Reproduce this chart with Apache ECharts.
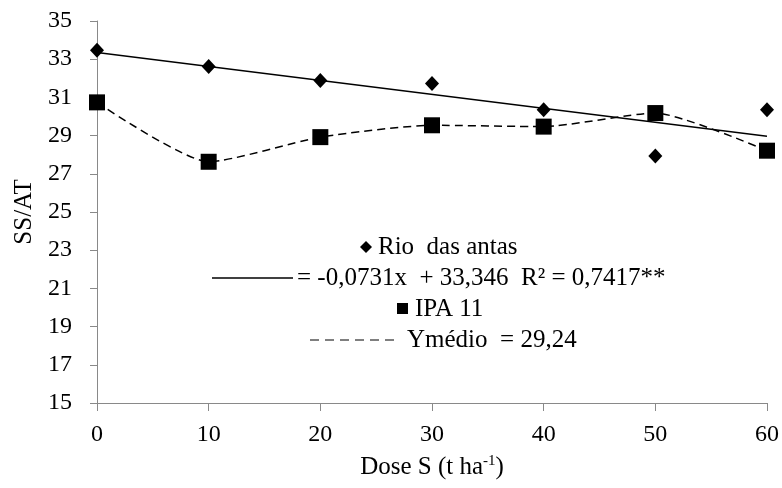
<!DOCTYPE html>
<html><head><meta charset="utf-8">
<script src="https://cdn.jsdelivr.net/npm/echarts@6/dist/echarts.min.js"></script>
<style>html,body{margin:0;padding:0;background:#fff}#c{width:782px;height:488px}</style>
</head><body><div id="c"></div>
<script>
// Data
const doses = [0, 10, 20, 30, 40, 50, 60];
const rioValues = [33.47, 32.62, 31.88, 31.73, 30.35, 27.93, 30.35];
const ipaValues = [30.74, 27.63, 28.92, 29.54, 29.47, 30.18, 28.21];
const trendX = [0, 60];
const trendY = [33.35, 28.96];
const legendLabels = ['Rio  das antas', '= -0,0731x  + 33,346  R² = 0,7417**', 'IPA 11', 'Ymédio  = 29,24'];

const FONT = 'Liberation Serif';
const AXIS = '#898989';
const FS = 24;

const chart = echarts.init(document.getElementById('c'), null, {renderer: 'canvas'});
const pair = (xs, ys) => xs.map((x, i) => [x, ys[i]]);

const txt = (x, y, s) => ({type: 'text', x: x, y: y, style: {text: s, fontFamily: FONT, fontSize: 25, fill: '#000', verticalAlign: 'middle', align: 'left'}});

chart.setOption({
  animation: false,
  backgroundColor: '#fff',
  textStyle: {fontFamily: FONT},
  grid: {left: 97, right: 15, top: 21, bottom: 85, containLabel: false},
  xAxis: {
    type: 'value', min: 0, max: 60, interval: 10,
    name: 'Dose S (t ha{sup|-1})', nameLocation: 'middle', nameGap: 51,
    nameTextStyle: {fontFamily: FONT, fontSize: 25, color: '#000',
      rich: {sup: {fontFamily: FONT, fontSize: 15, verticalAlign: 'top', padding: [0,0,12,0], color: '#000'}}},
    axisLine: {show: true, lineStyle: {color: AXIS, width: 1}},
    axisTick: {show: true, length: 8, inside: false, lineStyle: {color: AXIS}},
    axisLabel: {fontFamily: FONT, fontSize: FS, color: '#000', margin: 20},
    splitLine: {show: false}
  },
  yAxis: {
    type: 'value', min: 15, max: 35, interval: 2,
    name: 'SS/AT', nameLocation: 'middle', nameGap: 60, nameRotate: 90,
    nameTextStyle: {fontFamily: FONT, fontSize: 25, color: '#000'},
    axisLine: {show: true, lineStyle: {color: AXIS, width: 1}},
    axisTick: {show: true, length: 7, lineStyle: {color: AXIS}},
    axisLabel: {fontFamily: FONT, fontSize: FS, color: '#000', margin: 25},
    splitLine: {show: false}
  },
  series: [
    {
      name: 'trend', type: 'line', data: pair(trendX, trendY), symbol: 'none',
      lineStyle: {color: '#000', width: 1.5}, z: 2
    },
    {
      name: 'IPA 11', type: 'line', data: pair(doses, ipaValues), smooth: 0.2,
      symbol: 'rect', symbolSize: 16,
      itemStyle: {color: '#000', opacity: 1},
      lineStyle: {color: '#000', width: 1.5, type: [8, 5]}, z: 3
    },
    {
      name: 'Rio das antas', type: 'scatter', data: pair(doses, rioValues),
      symbol: 'diamond', symbolSize: [14, 15],
      itemStyle: {color: '#000', opacity: 1}, z: 4
    }
  ],
  graphic: [
    {type: 'polygon', shape: {points: [[366, 241], [372, 247], [366, 253], [360, 247]]}, style: {fill: '#000'}},
    txt(378, 247, legendLabels[0]),
    {type: 'line', shape: {x1: 212, y1: 278, x2: 293, y2: 278}, style: {stroke: '#000', lineWidth: 1.5}},
    txt(297, 278, legendLabels[1]),
    {type: 'rect', shape: {x: 397, y: 303, width: 11, height: 11}, style: {fill: '#000'}},
    txt(415, 309, legendLabels[2]),
    {type: 'line', shape: {x1: 310, y1: 340, x2: 400, y2: 340}, style: {stroke: '#000', lineWidth: 1.2, lineDash: [9, 6]}},
    txt(407, 340, legendLabels[3])
  ]
});
</script></body></html>
